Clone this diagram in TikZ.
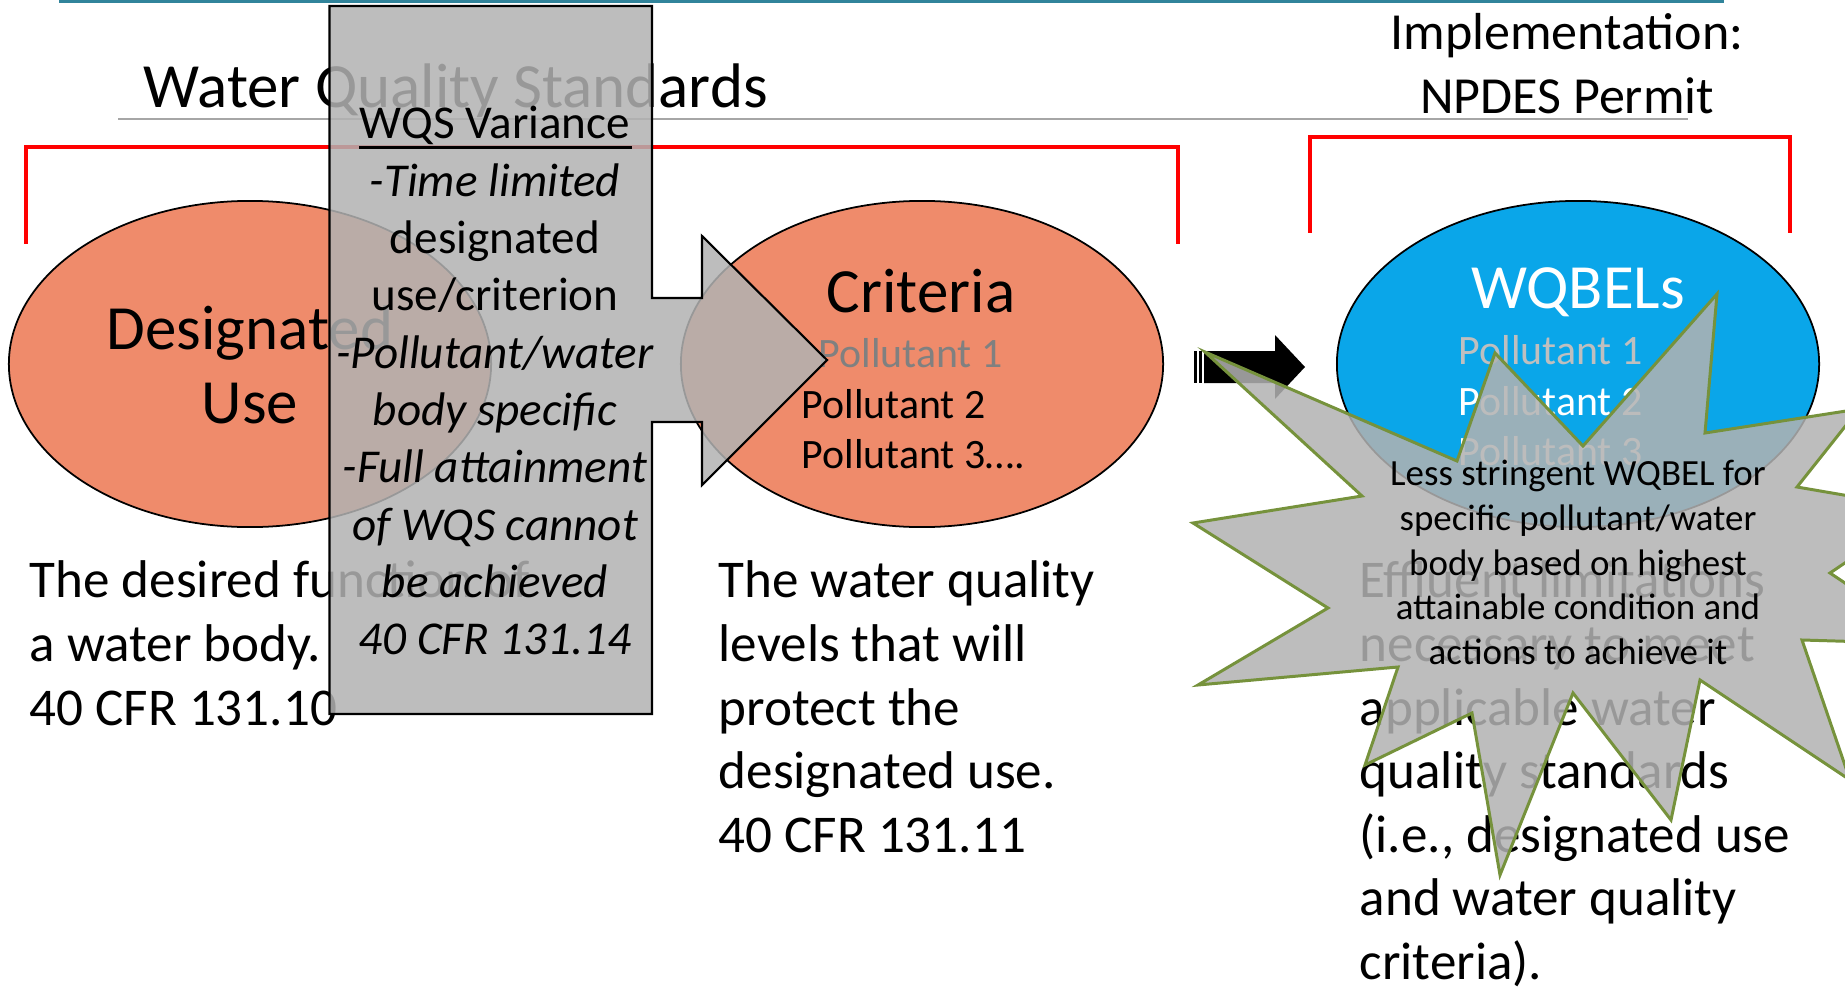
\documentclass[tikz,border=0pt]{standalone}
\usepackage{fontspec}
\setmainfont{Carlito}
\usetikzlibrary{shapes.geometric}

\definecolor{topline}{HTML}{31849B}
\definecolor{rulegray}{HTML}{A6A6A6}
\definecolor{salmon}{HTML}{EF8B6B}
\definecolor{skyblob}{HTML}{0AA6E9}
\definecolor{veilgray}{HTML}{B2B2B2}
\definecolor{stargreen}{HTML}{76923C}

% font sizes (1 unit = 1 px of the slide)
\newcommand\fsTitle{\fontsize{17.9}{21}\selectfont}
\newcommand\fsBig{\fontsize{17.9}{21.05}\selectfont}
\newcommand\fsHead{\fontsize{14.8}{18.2}\selectfont}
\newcommand\fsBody{\fontsize{15.1}{18.1}\selectfont}
\newcommand\fsCall{\fontsize{13.4}{16.3}\selectfont}
\newcommand\fsPoll{\fontsize{11.9}{14.4}\selectfont}
\newcommand\fsStar{\fontsize{10.5}{12.7}\selectfont}

\begin{document}
\begin{tikzpicture}[x=0.01cm, y=-0.01cm,
  bracket/.style={draw=red, line width=1.1pt},
  blob/.style={ellipse, draw, line width=0.5pt, inner sep=0pt,
    minimum width=4.82cm, minimum height=3.26cm},
  veil/.style={fill=veilgray, fill opacity=0.86},
  txt/.style={inner sep=0pt, anchor=base west, align=left},
  ctxt/.style={inner sep=0pt, anchor=base, align=center}]

  % page
  \useasboundingbox (0,0) rectangle (1845,988);
  \clip (0,0) rectangle (1845,988);

  % header
  \draw[topline, line width=1.1pt] (59,1.5) -- (1724,1.5);
  \node[txt, font=\fsTitle] (title) at (143,108) {Water Quality Standards};
  \draw[rulegray, line width=0.55pt] (118,119) -- (1688,119);
  % multi-line nodes sit on the baseline of their last line
  \node[ctxt, font=\fsHead] (impl) at (1567,114) {Implementation:\\NPDES Permit};
  \draw[bracket] (26,244) |- (1178,147) -- (1178,244);
  \draw[bracket] (1310,233) |- (1790,137) -- (1790,233);

  % the three ellipses
  \node[blob, fill=salmon] (use) at (250,364) {};
  \node[blob, fill=salmon] (crit) at (922,364) {};
  \node[blob, fill=skyblob] (wqbel) at (1578,364) {};

  \node[ctxt, font=\fsBig] (usetxt) at (250,423.5) {Designated\\Use};
  \node[ctxt, font=\fsBig] (crittxt) at (921,312) {Criteria};
  \node[txt, font=\fsPoll, text=black!50] (cp1) at (818,367) {Pollutant 1};
  \node[txt, font=\fsPoll] (cp2) at (801,419) {Pollutant 2};
  \node[txt, font=\fsPoll] (cp3) at (801,468) {Pollutant 3….};
  \node[ctxt, font=\fsBig, text=white] (wqtxt) at (1578,308) {WQBELs};
  \node[txt, font=\fsPoll, text=black!25] (wp1) at (1458,364) {Pollutant 1};
  \node[txt, font=\fsPoll, text=white] (wp2) at (1458,415) {Pollutant 2};
  \node[txt, font=\fsPoll, text=white] (wp3) at (1458,465) {Pollutant 3};

  % descriptions
  \node[txt, font=\fsBody] (usedesc) at (29,725.2)
    {The desired function of\\a water body.\\40 CFR 131.10};
  \node[txt, font=\fsBody] (critdesc) at (718,852.4)
    {The water quality\\levels that will\\protect the\\designated use.\\40 CFR 131.11};
  \node[txt, font=\fsBody] (wqdesc) at (1359,979.6)
    {Effluent limitations\\necessary to meet\\applicable water\\quality standards\\(i.e., designated use\\and water quality\\criteria).};

  % striped arrow criteria -> wqbels
  \fill (1194,351) rectangle (1196.5,383);
  \fill (1198.5,351) rectangle (1202,383);
  \fill (1204,351) -- (1275,351) -- (1275,335) -- (1305,367)
    -- (1275,399) -- (1275,383) -- (1204,383) -- cycle;

  % variance callout
  \draw[veil, line width=0.6pt] (329.5,6) -- (652,6) -- (652,298) -- (702,298)
    -- (702,236) -- (827,360) -- (702,485) -- (702,422) -- (652,422)
    -- (652,714) -- (329.5,714) -- cycle;
  \node[ctxt, font=\fsCall] (vartxt) at (495,654.7)
    {WQS Variance\\\textit{-Time limited}\\designated\\use/criterion\\
     \textit{-Pollutant/water}\\\textit{body specific}\\\textit{-Full attainment}\\
     \textit{of WQS cannot}\\\textit{be achieved}\\\textit{40 CFR 131.14}};
  \draw[line width=0.8pt] (359,147.5) -- (632,147.5);

  % explosion
  \draw[veil, draw=stargreen, line width=0.85pt] (1205,352)
    \foreach \p in {(1457,461),(1495,353),(1583,446),(1717,294),(1705,433),
      (1859,409),(1797,487),(1925,509),(1830,573),(1936,644),(1802,640),
      (1850,780),(1700,680),(1671,820),(1573,693),(1500,875),(1472,713),
      (1365,765),(1398,667),(1198,685),(1328,608),(1193,523),(1362,496)}
    { -- \p } -- cycle;
  \node[ctxt, font=\fsStar] (startxt) at (1578,664.6)
    {Less stringent WQBEL for\\specific pollutant/water\\body based on highest\\attainable condition and\\actions to achieve it};
\end{tikzpicture}
\end{document}
